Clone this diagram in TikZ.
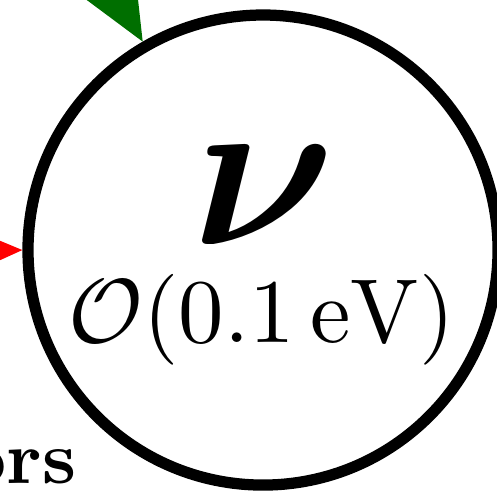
\documentclass[tikz,border=0pt]{standalone}
\usepackage{amsmath}
\usepackage{amssymb}
\usetikzlibrary{positioning,arrows.meta}
\definecolor{cNuIn}{HTML}{006F00}
\definecolor{cNuSide}{HTML}{FF0000}
\tikzset{
  blob/.style={circle,draw,line width=1.35pt,minimum size=56.4pt,inner sep=0pt,outer sep=0.67pt},
  feed/.style={-{Triangle[length=8.4pt,width=7.2pt]},line width=0.4pt},
  lbl/.style={inner sep=0pt}}
\begin{document}
\begin{tikzpicture}[x=0.12pt,y=0.12pt]
\useasboundingbox (0,0) rectangle (497,493);
\node[blob] (nu) at (263,243) {};
\node[lbl,scale=2.66] (nuname) at (264,298) {$\boldsymbol{\nu}$};
\node[lbl,scale=1.09,anchor=base] (numass) at (262,151) {$\mathcal{O}(0.1\,\mathrm{eV})$};
\node[lbl,scale=0.9,anchor=base east] (flav) at (78,10) {\textbf{ors}};
\coordinate (gsrc) at (93,538);
\coordinate (rsrc) at (-100,241);
\draw[feed,draw=cNuIn] (gsrc) -- (nu.120);
\draw[feed,draw=cNuSide] (rsrc) -- (nu.west);
\end{tikzpicture}
\end{document}
